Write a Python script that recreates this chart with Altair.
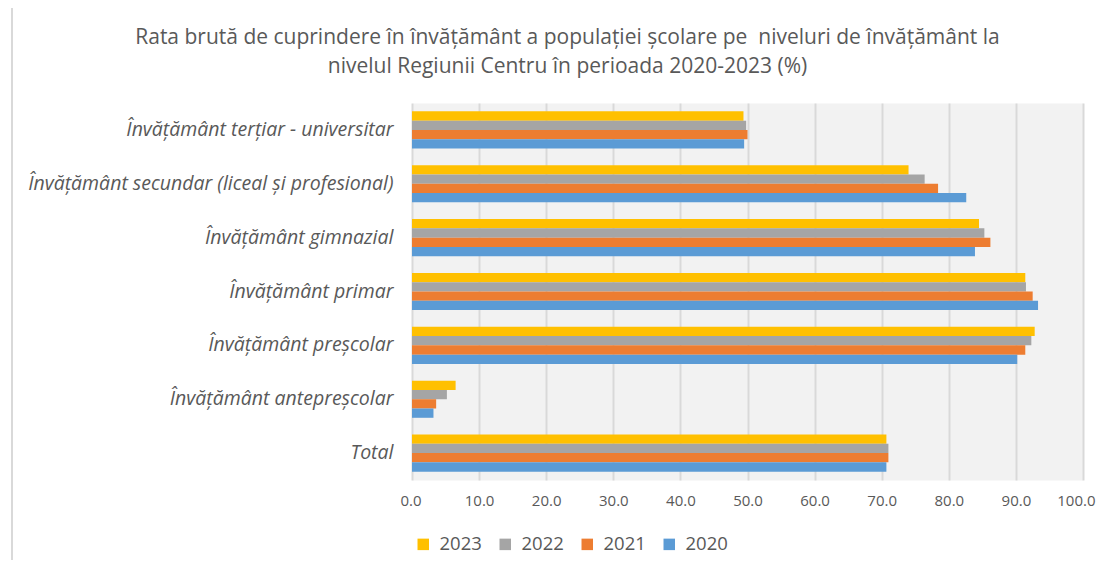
import altair as alt
import pandas as pd

categories = [
    "Învățământ terțiar - universitar",
    "Învățământ secundar (liceal și profesional)",
    "Învățământ gimnazial",
    "Învățământ primar",
    "Învățământ preșcolar",
    "Învățământ antepreșcolar",
    "Total",
]
years = ["2023", "2022", "2021", "2020"]
v2023 = [49.4, 74.0, 84.5, 91.4, 92.8, 6.5, 70.7]
v2022 = [49.8, 76.4, 85.3, 91.5, 92.3, 5.2, 71.0]
v2021 = [50.0, 78.4, 86.2, 92.5, 91.4, 3.6, 71.0]
v2020 = [49.5, 82.6, 83.9, 93.3, 90.2, 3.2, 70.7]
colors = ["#FFC000", "#A5A5A5", "#ED7D31", "#5B9BD5"]
tick_values = [0, 10, 20, 30, 40, 50, 60, 70, 80, 90, 100]
title_lines = [
    "Rata brută de cuprindere în învățământ a populației școlare pe\u00a0 niveluri de învățământ la",
    "nivelul Regiunii Centru în perioada 2020-2023 (%)",
]

rows = []
for yr, vals in zip(years, [v2023, v2022, v2021, v2020]):
    for c, v in zip(categories, vals):
        rows.append({"cat": c, "year": yr, "value": v})
df = pd.DataFrame(rows)

FONT = "Open Sans"
TXT = "#595959"

bars = alt.Chart(df).mark_bar().encode(
    y=alt.Y(
        "cat:N",
        sort=categories,
        scale=alt.Scale(paddingInner=0.31, paddingOuter=0.155),
        axis=alt.Axis(
            title=None, labelFont=FONT, labelFontStyle="italic", labelFontSize=19.5,
            labelColor=TXT, labelPadding=19, labelLimit=600, domain=False,
            ticks=False, grid=False,
        ),
    ),
    yOffset=alt.YOffset("year:N", sort=years, scale=alt.Scale(paddingInner=0, paddingOuter=0)),
    x=alt.X(
        "value:Q",
        scale=alt.Scale(domain=[0, 100], nice=False),
        axis=alt.Axis(
            title=None, values=tick_values, format=".1f", labelFont=FONT,
            labelFontSize=15, labelColor=TXT, labelPadding=13, labelFlush=True,
            labelFlushOffset=12,
            domain=False, ticks=False, grid=True, gridColor="#d9d9d9", gridWidth=2,
        ),
    ),
    color=alt.Color(
        "year:N",
        sort=years,
        scale=alt.Scale(domain=years, range=colors),
        legend=alt.Legend(
            title=None, orient="none", direction="horizontal", legendX=2, legendY=432,
            symbolType="square", symbolSize=132, symbolStrokeWidth=0,
            labelFont=FONT, labelFontSize=18.5, labelColor=TXT, labelOffset=7,
            columnPadding=14, padding=0,
        ),
    ),
)

border = alt.Chart(pd.DataFrame({"a": [0]})).mark_rule(color="#d9d9d9", strokeWidth=2).encode(
    x=alt.value(-400), y=alt.value(-95), y2=alt.value(470)
)

chart = alt.layer(border, bars).properties(
    width=671,
    height=377,
    padding={"left": 404, "top": 95, "right": 16, "bottom": 80},
    autosize=alt.AutoSizeParams(type="none"),
    title=alt.TitleParams(
        text=title_lines, font=FONT, fontSize=21, fontWeight="normal", color=TXT,
        anchor="middle", frame="group", dx=-180, dy=70, offset=0, lineHeight=29,
    ),
).configure_view(fill="#f2f2f2", stroke="transparent")

chart.save("out.html", embed_options={"renderer": "svg", "actions": False})
